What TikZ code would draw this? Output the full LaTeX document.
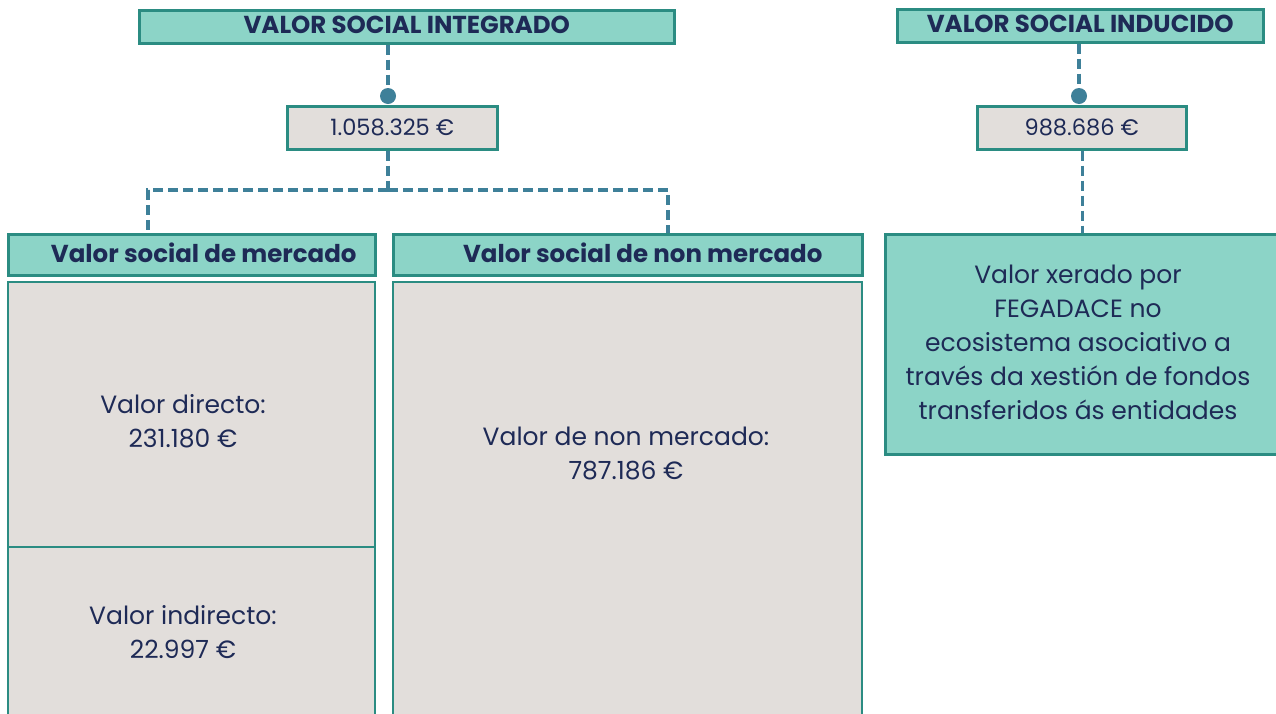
\documentclass[tikz,border=0pt]{standalone}
\usepackage{fontspec}
\setmainfont{Poppins}
\definecolor{headfill}{HTML}{8CD4C7}
\definecolor{headline}{HTML}{2B8C82}
\definecolor{boxfill}{HTML}{E2DEDB}
\definecolor{linkline}{HTML}{3E8099}
\definecolor{textnavy}{HTML}{1E2A56}
\begin{document}
\begin{tikzpicture}
            [x=1pt,y=-1pt,
             Head/.style={draw=headline,fill=headfill,line width=2.5pt,text=textnavy,
               font=\bfseries\fontsize{24.5}{28}\selectfont,inner sep=0pt,text depth=4pt,anchor=north west},
             Amount/.style={draw=headline,fill=boxfill,line width=2.5pt,text=textnavy,
               font=\fontsize{22.5}{26}\selectfont,inner sep=0pt,anchor=north west},
             Body/.style={draw=headline,fill=boxfill,line width=2pt,anchor=north west,inner sep=0pt},
             Label/.style={text=textnavy,font=\fontsize{25}{34}\selectfont,align=center},
             Link/.style={draw=linkline,line width=3.5pt,dash pattern=on 10pt off 5pt},
             Dot/.style={circle,fill=linkline,inner sep=0pt,minimum size=16pt}];
            \clip (0,0) rectangle (1276,713);
            % integrado
            \node[Head,minimum width=535,minimum height=33] (hdInt) at (138,9) {VALOR SOCIAL INTEGRADO};
            \node[Dot] (dotInt) at (388,96) {};
            \node[Amount,minimum width=210,minimum height=43] (valInt) at (286,105) {1.058.325 €};
            % inducido
            \node[Head,minimum width=366,minimum height=33] (hdInd) at (896,8) {VALOR SOCIAL INDUCIDO};
            \node[Dot] (dotInd) at (1079,96) {};
            \node[Amount,minimum width=209,minimum height=43] (valInd) at (976,105) {988.686 €};
            % columnas
            \node[Head,minimum width=367,minimum height=41] (hdMkt) at (7,233) {\hspace*{24pt}Valor social de mercado};
            \node[Head,minimum width=469,minimum height=41] (hdNon) at (392,233) {\hspace*{30pt}Valor social de non mercado};
            \node[Body,minimum width=367,minimum height=265] (dirBox) at (7,281) {};
            \node[Body,minimum width=367,minimum height=180] (indBox) at (7,546) {};
            \node[Body,minimum width=469,minimum height=445] (nonBox) at (392,281) {};
            \node[Head,fill=headfill,minimum width=394,minimum height=220] (ecoBox) at (884,233) {};
            \node[Label] (dirTxt) at (183,421) {Valor directo:\\231.180 €};
            \node[Label] (indTxt) at (183,632) {Valor indirecto:\\22.997 €};
            \node[Label] (nonTxt) at (626,453) {Valor de non mercado:\\787.186 €};
            \node[Label] (ecoTxt) at (1078,342) {Valor xerado por\\FEGADACE no\\ecosistema asociativo a\\través da xestión de fondos\\transferidos ás entidades};
            % conectores
            \coordinate (split) at (388,190);
            \coordinate (mktTop) at (148,233);
            \coordinate (nonTop) at (668,233);
            \draw[Link] (hdInt.south -| dotInt) -- (dotInt);
            \draw[Link] (valInt.south -| dotInt) -- (split);
            \draw[Link] (split) -| (mktTop);
            \draw[Link] (split) -| (nonTop);
            \draw[Link] (hdInd.south -| dotInd) -- (dotInd);
            \draw[Link] (valInd.south -| ecoBox.north) -- (ecoBox.north);
        \end{tikzpicture}
\end{document}
